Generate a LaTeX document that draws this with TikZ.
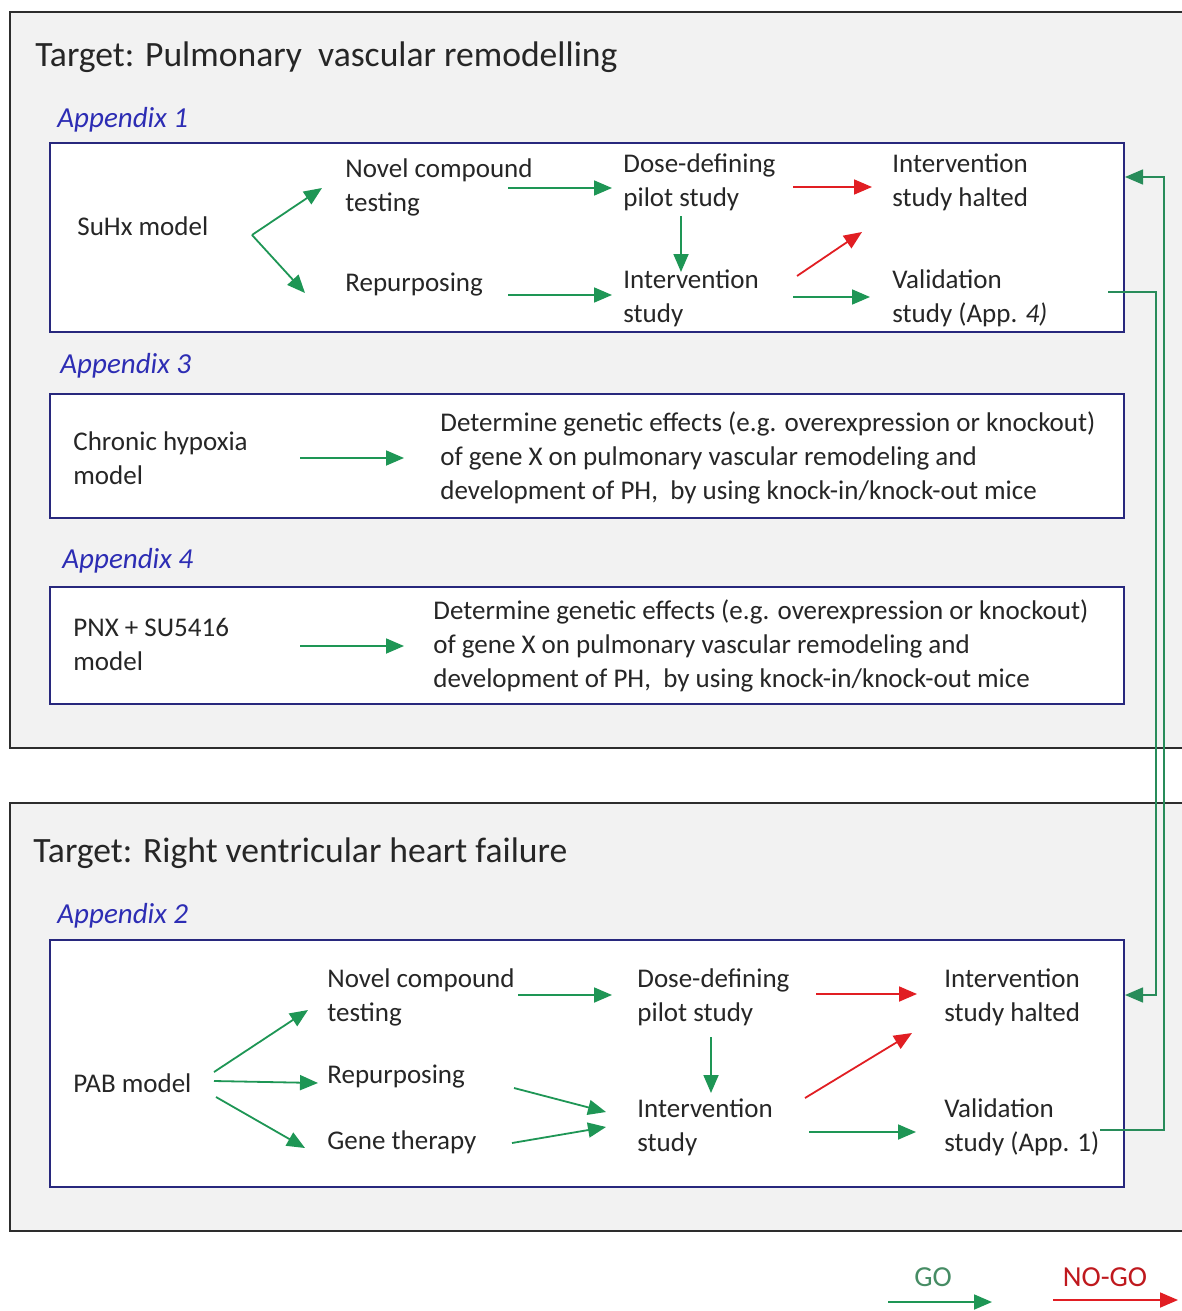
\documentclass[tikz,border=0pt]{standalone}
\usepackage{fontspec}
\setmainfont{Carlito}
\usetikzlibrary{arrows.meta,calc}
\definecolor{gogreen}{RGB}{30,150,85}
\definecolor{linkgreen}{RGB}{40,140,90}
\definecolor{nogored}{RGB}{225,30,35}
\definecolor{boxblue}{RGB}{40,40,125}
\definecolor{appblue}{RGB}{45,45,180}
\definecolor{panelgray}{RGB}{242,242,242}
\definecolor{panelline}{RGB}{45,45,45}
\definecolor{legendgreen}{RGB}{70,140,100}
\newcommand\bodyfont{\fontsize{13.5}{17}\selectfont}
\newcommand\titlefont{\fontsize{17.8}{21}\selectfont}
\newcommand\appfont{\fontsize{14.5}{17}\selectfont\itshape}
\newcommand\legendfont{\fontsize{14.5}{17}\selectfont}
\begin{document}
\begin{tikzpicture}[x=0.5pt,y=-0.5pt,
  lbl/.style={anchor=west,inner sep=0pt,align=left,font=\bodyfont,text=black!85},
  ttl/.style={anchor=west,inner sep=0pt,font=\titlefont,text=black!85},
  app/.style={anchor=west,inner sep=0pt,font=\appfont,text=appblue},
  bluebox/.style={draw=boxblue,line width=1pt,fill=white,minimum width=537pt,inner sep=0pt},
  panel/.style={draw=panelline,line width=1pt,fill=panelgray},
  goarrow/.style={draw=gogreen,line width=0.9pt,-{Triangle[length=9pt,width=7.5pt]}},
  nogoarrow/.style={draw=nogored,line width=0.9pt,-{Triangle[length=9pt,width=7.5pt]}},
  backlink/.style={draw=linkgreen,line width=0.75pt,-{Triangle[length=9pt,width=7.5pt]}}
]
\clip (0,0) rectangle (1182,1311);
\fill[white] (0,0) rectangle (1182,1311);

% grey panels
\draw[panel] (10,12) rectangle (1200,748);
\draw[panel] (10,803) rectangle (1200,1231);

% ---------- Pulmonary vascular remodelling ----------
\node[ttl] (title1) at (35,57) {Target: Pulmonary~ vascular remodelling};

\node[app] (app1) at (57,120) {Appendix 1};
\node[bluebox,minimum height=94.5pt] (box1) at (587,237.5) {};
\node[lbl] (suhx)  at (77,226)  {SuHx model};
\node[lbl] (nov1)  at (345,187) {Novel compound\\testing};
\node[lbl] (rep1)  at (345,285) {Repurposing};
\node[lbl] (dose1) at (623,182) {Dose-defining\\pilot study};
\node[lbl] (int1)  at (623,298) {Intervention\\study};
\node[lbl] (halt1) at (892,182) {Intervention\\study halted};
\node[lbl] (val1)  at (892,298) {Validation\\study (App. \textit{4)}};

\draw[goarrow] ([shift={(175,9)}]suhx.west) -- ([shift={(-23,1)}]nov1.west);
\draw[goarrow] ([shift={(175,9)}]suhx.west) -- ([shift={(-40,8)}]rep1.west);
\draw[goarrow] ([shift={(163,1)}]nov1.west) -- ([shift={(-11,6)}]dose1.west);
\draw[goarrow] ([shift={(163,10)}]rep1.west) -- ([shift={(-11,-3)}]int1.west);
\draw[goarrow] ([shift={(58,34)}]dose1.west) -- ([shift={(58,-26)}]int1.west);
\draw[nogoarrow] ([shift={(170,5)}]dose1.west) -- ([shift={(-20,5)}]halt1.west);
\draw[nogoarrow] ([shift={(174,-22)}]int1.west) -- ([shift={(-30,50)}]halt1.west);
\draw[goarrow] ([shift={(170,-1)}]int1.west) -- ([shift={(-22,-1)}]val1.west);

\node[app] (app3) at (60,366) {Appendix 3};
\node[bluebox,minimum height=62pt] (box3) at (587,456) {};
\node[lbl] (chx)  at (73,458)  {Chronic hypoxia\\model};
\node[lbl] (det3) at (440,458) {Determine genetic effects (e.g. overexpression or knockout)\\of gene X on pulmonary vascular remodeling and\\development of PH,~ by using knock-in/knock-out mice};
\draw[goarrow] ([shift={(227,0)}]chx.west) -- ([shift={(-36,0)}]det3.west);

\node[app] (app4) at (62,561) {Appendix 4};
\node[bluebox,minimum height=58.5pt] (box4a) at (587,645.5) {};
\node[lbl] (pnx)  at (73,644)  {PNX + SU5416\\model};
\node[lbl] (det4) at (433,646) {Determine genetic effects (e.g. overexpression or knockout)\\of gene X on pulmonary vascular remodeling and\\development of PH,~ by using knock-in/knock-out mice};
\draw[goarrow] ([shift={(227,2)}]pnx.west) -- ([shift={(-29,0)}]det4.west);

% ---------- Right ventricular heart failure ----------
\node[ttl] (title2) at (33,853) {Target: Right ventricular heart failure};

\node[app] (app2) at (57,916) {Appendix 2};
\node[bluebox,minimum height=123.5pt] (box2) at (587,1063.5) {};
\node[lbl] (pab)   at (73,1083)  {PAB model};
\node[lbl] (nov2)  at (327,997)  {Novel compound\\testing};
\node[lbl] (rep2)  at (327,1077) {Repurposing};
\node[lbl] (gene)  at (327,1142) {Gene therapy};
\node[lbl] (dose2) at (637,997)  {Dose-defining\\pilot study};
\node[lbl] (int2)  at (637,1127) {Intervention\\study};
\node[lbl] (halt2) at (944,997)  {Intervention\\study halted};
\node[lbl] (val2)  at (944,1127) {Validation\\study (App. 1)};

\draw[goarrow] ([shift={(141,-11)}]pab.west) -- ([shift={(-19,13)}]nov2.west);
\draw[goarrow] ([shift={(141,-2)}]pab.west) -- ([shift={(-9,6)}]rep2.west);
\draw[goarrow] ([shift={(143,14)}]pab.west) -- ([shift={(-22,6)}]gene.west);
\draw[goarrow] ([shift={(191,-2)}]nov2.west) -- ([shift={(-25,-2)}]dose2.west);
\draw[goarrow] ([shift={(187,11)}]rep2.west) -- ([shift={(-31,-15)}]int2.west);
\draw[goarrow] ([shift={(185,1)}]gene.west) -- ([shift={(-31,0)}]int2.west);
\draw[goarrow] ([shift={(74,40)}]dose2.west) -- ([shift={(74,-34)}]int2.west);
\draw[nogoarrow] ([shift={(179,-3)}]dose2.west) -- ([shift={(-27,-3)}]halt2.west);
\draw[nogoarrow] ([shift={(168,-29)}]int2.west) -- ([shift={(-32,36)}]halt2.west);
\draw[goarrow] ([shift={(172,5)}]int2.west) -- ([shift={(-28,5)}]val2.west);

% validation studies feed the other model
\draw[backlink] ([shift={(216,-6)}]val1.west) -- ++(48,0) |- ($(box2.east |- halt2.west)+(0,-2)$);
\draw[backlink] ([shift={(156,3)}]val2.west) -- ++(64,0) |- ($(box1.east |- halt1.west)+(0,-5)$);

% legend
\node[inner sep=0pt,font=\legendfont,text=legendgreen] (golbl) at (933,1277) {GO};
\node[inner sep=0pt,font=\legendfont,text=nogored!85!black] (nogolbl) at (1105,1277) {NO-GO};
\draw[goarrow] ([shift={(-45,25)}]golbl.center) -- ([shift={(59,25)}]golbl.center);
\draw[nogoarrow] ([shift={(-52,23)}]nogolbl.center) -- ([shift={(73,23)}]nogolbl.center);
\end{tikzpicture}
\end{document}
